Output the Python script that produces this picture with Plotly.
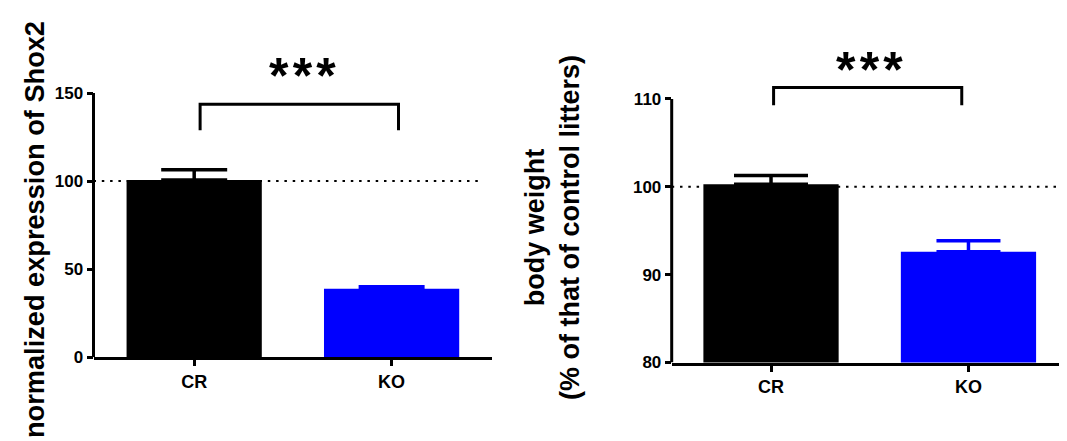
import plotly.graph_objects as go

# ---- data ----
categories = ["CR", "KO"]
bar_colors = ["#000000", "#0000ff"]

shox2_mean = [100.6, 38.9]
shox2_err = [5.8, 1.2]
weight_mean = [100.3, 92.6]
weight_err = [1.0, 1.25]

shox2_ticks = [0, 50, 100, 150]
weight_ticks = [80, 90, 100, 110]
reference_level = 100

shox2_bracket_x = [0.03, 1.035]
shox2_bracket_y = [128.8, 143.6]
weight_bracket_x = [0.013, 0.966]
weight_bracket_y = [109.3, 111.3]
sig_label = "*\u200a*\u200a*"
shox2_sig_pos = [0.55, 159.4]
weight_sig_pos = [0.499, 113.3]

shox2_title = "normalized expression of Shox2"
weight_title = "body weight<br>(% of that of control litters)"

# page is shown with the default 8px body margin -> figure sits at (8, 8)
OFF = 8
W, H = 1067 - OFF, 441 - OFF
FONT = "Liberation Sans, Arial, sans-serif"


def fx(px):  # page x pixel -> paper fraction
    return (px - OFF) / W


def fy(py):  # page y pixel -> paper fraction
    return (H - (py - OFF)) / H


fig = go.Figure()

panels = [
    dict(xa="x", ya="y", mean=shox2_mean, err=shox2_err, capw=[33, 33]),
    dict(xa="x2", ya="y2", mean=weight_mean, err=weight_err, capw=[37, 32]),
]
for p in panels:
    for i, cat in enumerate(categories):
        fig.add_trace(go.Bar(
            x=[i], y=[p["mean"][i]], width=0.685,
            marker=dict(color=bar_colors[i], line=dict(width=0)),
            error_y=dict(type="data", symmetric=False, array=[p["err"][i]],
                         arrayminus=[0], color=bar_colors[i], thickness=3.5,
                         width=p["capw"][i]),
            xaxis=p["xa"], yaxis=p["ya"], showlegend=False, name=cat,
        ))

ytickfont = dict(family=FONT, size=17, color="black", weight="bold")
xtickfont = dict(family=FONT, size=18, color="black", weight="bold")
common_x = dict(tickvals=[0, 1], ticktext=categories, showline=True, linewidth=3,
                linecolor="black", ticks="outside", ticklen=6, tickwidth=3,
                tickcolor="black", showgrid=False, zeroline=False, tickfont=xtickfont,
                fixedrange=True, automargin=False)
common_y = dict(ticks="outside", ticklen=6, tickwidth=3, tickcolor="black",
                showline=False, showgrid=False, zeroline=False,
                tickfont=ytickfont, fixedrange=True, automargin=False)

# page-pixel geometry of the two panels (y pixel of lowest and highest tick)
L_bot, L_top = 357.3, 93.0
R_bot, R_top = 362.5, 99.0
L_ppu = (L_bot - L_top) / (shox2_ticks[-1] - shox2_ticks[0])
R_ppu = (R_bot - R_top) / (weight_ticks[-1] - weight_ticks[0])
L_max, R_max = 175, 117
L_top_px = L_bot - (L_max - shox2_ticks[0]) * L_ppu
R_top_px = R_bot - (R_max - weight_ticks[0]) * R_ppu

fig.update_layout(
    width=W, height=H, autosize=False,
    margin=dict(l=0, r=0, t=0, b=0, pad=0),
    paper_bgcolor="white", plot_bgcolor="white",
    barmode="overlay",
    xaxis=dict(domain=[fx(93.5), fx(491.7)], range=[-0.51, 1.507], anchor="y", **common_x),
    yaxis=dict(domain=[fy(L_bot), fy(L_top_px)],
               range=[shox2_ticks[0], L_max], anchor="x",
               tickvals=shox2_ticks, **common_y),
    xaxis2=dict(domain=[fx(671.7), 1.0], range=[-0.503, 1.499], anchor="y2", **common_x),
    yaxis2=dict(domain=[fy(R_bot), min(1.0, fy(R_top_px))],
                range=[weight_ticks[0], R_max], anchor="x2",
                tickvals=weight_ticks, **common_y),
)

shapes = []
dot = dict(color="black", width=2, dash="2.5px,5.8px")
shapes.append(dict(type="line", xref="x domain", yref="y", x0=0, x1=0.978,
                   y0=reference_level, y1=reference_level, layer="below", line=dot))
shapes.append(dict(type="line", xref="x2 domain", yref="y2", x0=0, x1=1,
                   y0=reference_level, y1=reference_level, layer="below", line=dot))
# y axis lines only up to the last tick
shapes.append(dict(type="line", xref="x domain", yref="y", x0=0, x1=0,
                   y0=shox2_ticks[0], y1=shox2_ticks[-1],
                   line=dict(color="black", width=3)))
shapes.append(dict(type="line", xref="x2 domain", yref="y2", x0=0, x1=0,
                   y0=weight_ticks[0], y1=weight_ticks[-1],
                   line=dict(color="black", width=3)))
# significance brackets
for xa, ya, bx, by in [("x", "y", shox2_bracket_x, shox2_bracket_y),
                       ("x2", "y2", weight_bracket_x, weight_bracket_y)]:
    path = (f"M {bx[0]},{by[0]} L {bx[0]},{by[1]} "
            f"L {bx[1]},{by[1]} L {bx[1]},{by[0]}")
    shapes.append(dict(type="path", xref=xa, yref=ya, path=path,
                       line=dict(color="black", width=3)))
fig.update_layout(shapes=shapes)

starfont = dict(family=FONT, size=50, color="black", weight="bold")
annotations = [
    dict(text=sig_label, xref="x", yref="y", x=shox2_sig_pos[0], y=shox2_sig_pos[1],
         showarrow=False, font=starfont, xanchor="center", yanchor="middle"),
    dict(text=sig_label, xref="x2", yref="y2", x=weight_sig_pos[0], y=weight_sig_pos[1],
         showarrow=False, font=starfont, xanchor="center", yanchor="middle"),
    dict(text=shox2_title, xref="paper", yref="paper", x=fx(34), y=fy(230),
         showarrow=False, textangle=-90,
         font=dict(family=FONT, size=27.2, color="black", weight="bold"),
         xanchor="center", yanchor="middle"),
    dict(text=weight_title, xref="paper", yref="paper", x=fx(553), y=fy(228),
         showarrow=False, textangle=-90,
         font=dict(family=FONT, size=27, color="black", weight="bold"),
         xanchor="center", yanchor="middle"),
]
fig.update_layout(annotations=annotations)

fig.write_html("out.html")
